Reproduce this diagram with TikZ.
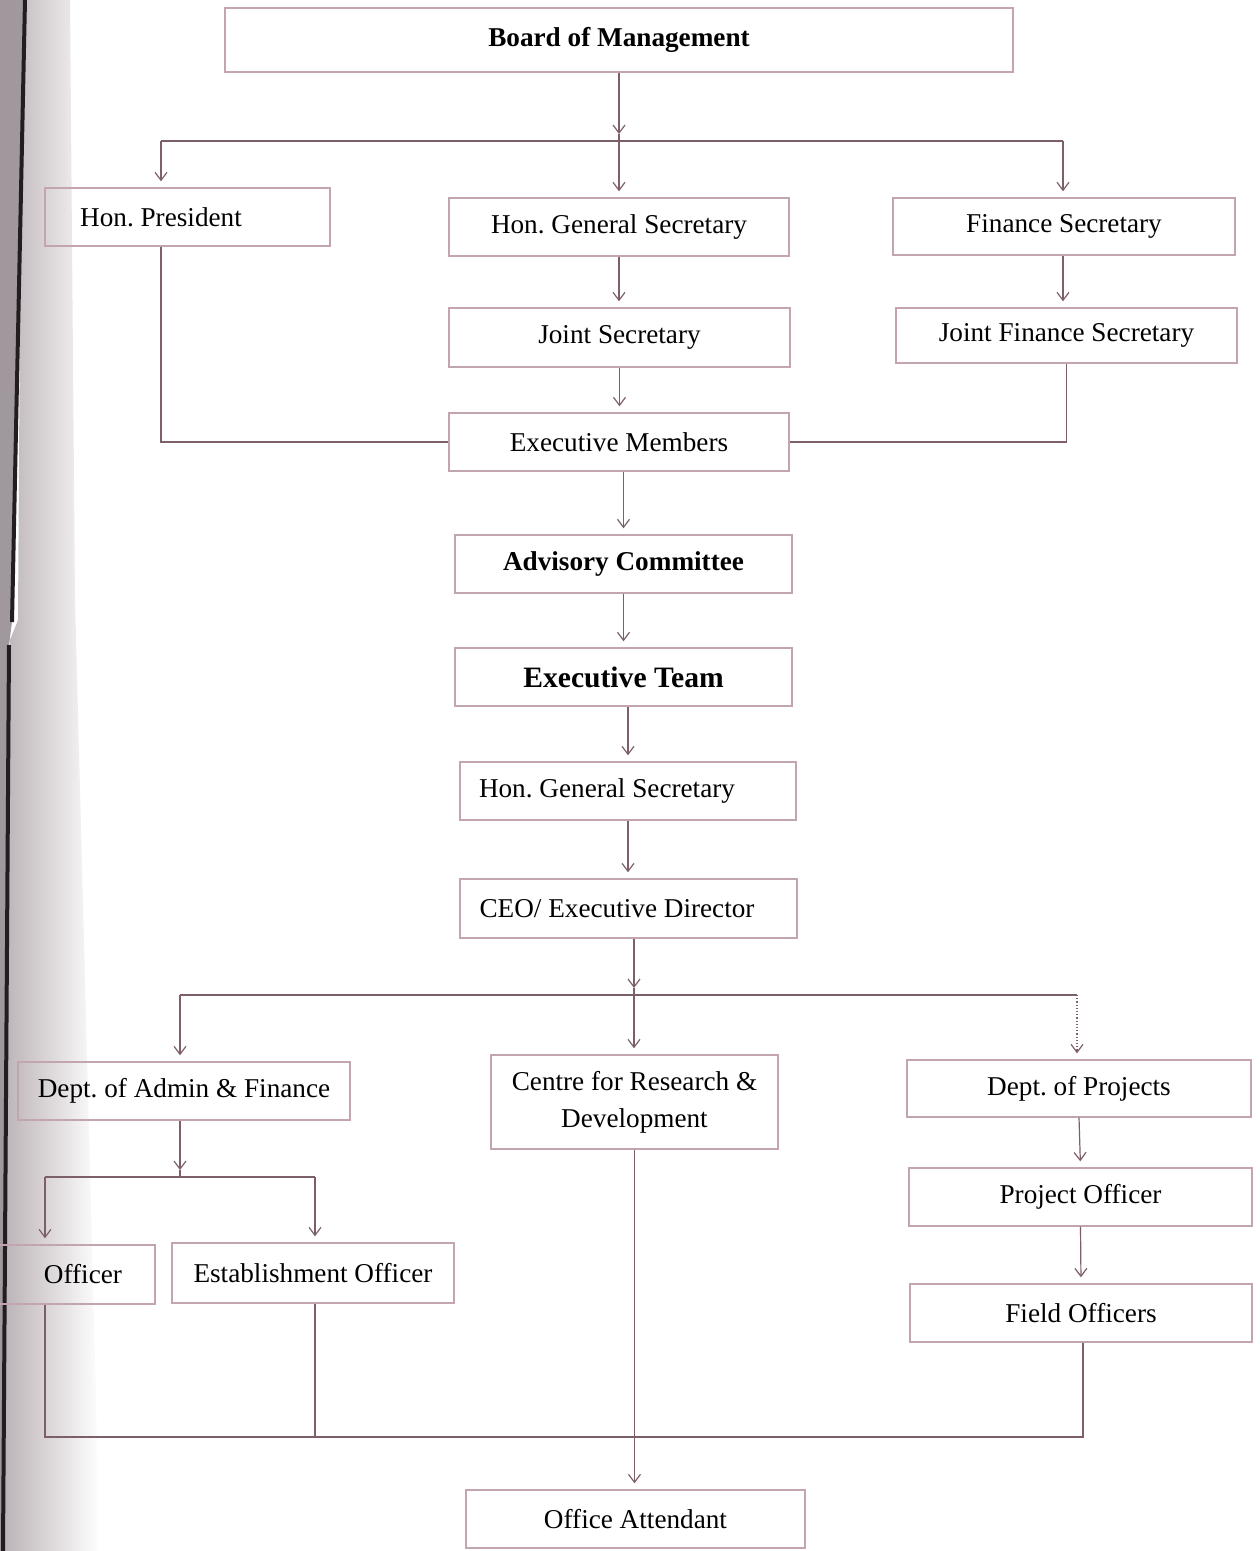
\documentclass[tikz,border=0pt]{standalone}
\usepackage{fontspec}
\setmainfont{Liberation Serif}
\usetikzlibrary{arrows.meta}
\frenchspacing
\definecolor{boxcol}{RGB}{195,165,175}
\definecolor{conncol}{RGB}{125,95,105}
\definecolor{bandcol}{RGB}{188,179,183}
\definecolor{darkline}{RGB}{35,28,32}
\tikzset{
  x=0.5pt, y=-0.5pt,
  box/.style={draw=boxcol, line width=0.7pt, rectangle, inner sep=0pt,
    font=\fontsize{13.6}{18.5}\selectfont, text=black, align=center},
  conn/.style={draw=conncol, line width=0.6pt},
  arr/.style={conn, -{Straight Barb[length=4pt,width=6pt]}, shorten >=3pt},
}
\begin{document}
\begin{tikzpicture}
\frenchspacing
\useasboundingbox (0,0) rectangle (1259,1551);
\fill[white] (0,0) rectangle (1259,1551);
% scan band at left edge
\shade[left color=bandcol, right color=white] (22,0) -- (70,0) -- (75,600) -- (100,1551) -- (4,1551) -- (10,640) -- (18,620) -- cycle;
\fill[bandcol!85!black] (0,0) -- (25,0) -- (12,622) -- (9,645) -- (3,1551) -- (0,1551) -- cycle;
\draw[darkline, line width=2pt] (25,0) -- (12,622);
\draw[darkline, line width=2pt] (9,645) -- (3,1551);

% boxes
\node[box, minimum width=394pt, minimum height=32pt] (bom) at (619,40) {\bfseries Board of Management};
\node[box, minimum width=142.5pt, minimum height=29pt] (pres) at (187.5,217) {Hon. President\hspace{26.5pt}};
\node[box, minimum width=170pt, minimum height=29pt] (hgs) at (619,227) {Hon. General Secretary};
\node[box, minimum width=171pt, minimum height=28.5pt] (fin) at (1064,226.5) {Finance Secretary};
\node[box, minimum width=170.5pt, minimum height=29.5pt] (js) at (619.5,337.5) {Joint Secretary};
\node[box, minimum width=170.5pt, minimum height=27.5pt] (jfs) at (1066.5,335.5) {Joint Finance Secretary};
\node[box, minimum width=170pt, minimum height=29pt] (em) at (619,442) {Executive Members};
\node[box, minimum width=168.5pt, minimum height=29pt] (adv) at (623.5,564) {\bfseries Advisory Committee};
\node[box, minimum width=168.5pt, minimum height=29pt] (et) at (623.5,677) {\fontsize{14.8}{18}\selectfont\bfseries Executive Team};
\node[box, minimum width=168pt, minimum height=29pt] (hgs2) at (628,791) {Hon. General Secretary\hspace{21pt}};
\node[box, minimum width=168.5pt, minimum height=29.5pt] (ceo) at (628.5,908.5) {CEO/ Executive Director\hspace{11.5pt}};
\node[box, minimum width=166pt, minimum height=29pt] (adm) at (184,1091) {Dept. of Admin \& Finance};
\node[box, minimum width=143.5pt, minimum height=47pt] (crd) at (634.5,1102) {Centre for Research \&\\ Development};
\node[box, minimum width=172pt, minimum height=28.5pt] (prj) at (1079,1088.5) {Dept. of Projects};
\node[box, minimum width=171.5pt, minimum height=29pt] (po) at (1080.5,1197) {Project Officer};
\node[box, minimum width=171pt, minimum height=29pt] (fo) at (1081,1313) {Field Officers};
\node[box, minimum width=147.5pt, minimum height=29.5pt] (off) at (7.5,1274.5) {\hspace{75.5pt}Officer};
\node[box, minimum width=141pt, minimum height=30pt] (est) at (313,1273) {Establishment Officer};
\node[box, minimum width=169.5pt, minimum height=29pt] (oa) at (635.5,1519) {Office Attendant};

% junction points
\coordinate (a1) at (619,134);
\coordinate (j1) at (619,141);
\coordinate (jl) at (161,141);
\coordinate (jr) at (1063,141);
\coordinate (a2) at (634,988);
\coordinate (j2) at (634,995);
\coordinate (j2l) at (180,995);
\coordinate (j2r) at (1077,995);
\coordinate (a3) at (180,1170);
\coordinate (j3) at (180,1177);
\coordinate (j3l) at (45,1177);
\coordinate (j3r) at (315,1177);
\coordinate (bl) at (45,1437);
\coordinate (br) at (1083,1437);

% top level
\draw[arr, shorten >=0pt] (bom.south) -- (a1);
\draw[conn] (a1) -- (j1);
\draw[conn] (jl) -- (jr);
\draw[arr] (jl) -- (jl |- pres.north);
\draw[arr] (j1) -- (hgs.north);
\draw[arr] (jr) -- (jr |- fin.north);
\draw[arr] (hgs.south) -- (js.north -| hgs.south);
\draw[arr] (js.south) -- (em.north -| js.south);
\draw[arr] (jr |- fin.south) -- (jr |- jfs.north);
\draw[conn] (jl |- pres.south) |- (em.west);
\draw[conn] (jfs.south) |- (em.east);

% central chain
\draw[arr] (adv.north |- em.south) -- (adv.north);
\draw[arr] (adv.south) -- (et.north);
\draw[arr] (hgs2.north |- et.south) -- (hgs2.north);
\draw[arr] (hgs2.south) -- (ceo.north -| hgs2.south);
\draw[arr, shorten >=0pt] (a2 |- ceo.south) -- (a2);
\draw[conn] (a2) -- (j2);
\draw[conn] (j2l) -- (j2r);
\draw[arr] (j2) -- (j2 |- crd.north);
\draw[arr] (j2l) -- (j2l |- adm.north);
\draw[arr, densely dotted] (j2r) -- (j2r |- prj.north);

% admin branch
\draw[arr, shorten >=0pt] (a3 |- adm.south) -- (a3);
\draw[conn] (a3) -- (j3);
\draw[conn] (j3l) -- (j3r);
\draw[arr] (j3r) -- (j3r |- est.north);
\draw[arr] (j3l) -- (j3l |- off.north);

% projects branch
\draw[arr] (prj.south) -- (po.north);
\draw[arr] (po.south) -- (fo.north);

% bottom
\draw[conn] (bl |- off.south) -- (bl) -- (br) -- (br |- fo.south);
\draw[conn] (j3r |- est.south) -- (j3r |- bl);
\draw[arr] (crd.south) -- (crd.south |- oa.north);
\end{tikzpicture}
\end{document}
